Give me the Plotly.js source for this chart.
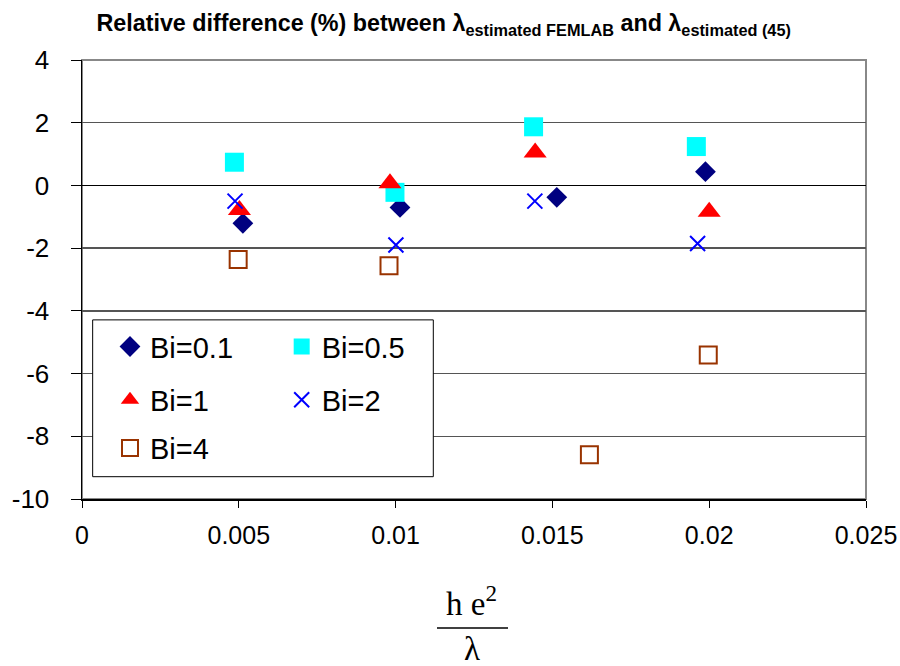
<!DOCTYPE html>
<html><head><meta charset="utf-8">
<script src="https://cdn.plot.ly/plotly-3.0.1.min.js"></script>
<style>html,body{margin:0;padding:0;background:#fff;}#chart{width:900px;height:666px;}</style>
</head><body><div id="chart"></div>
<script>
const seriesNames = ['Bi=0.1', 'Bi=0.5', 'Bi=1', 'Bi=2', 'Bi=4'];
const x_bi01 = [0.00513, 0.01014, 0.01514, 0.01988];
const y_bi01 = [-1.21, -0.70, -0.38, 0.44];
const x_bi05 = [0.00486, 0.00998, 0.01440, 0.01959];
const y_bi05 = [0.74, -0.22, 1.87, 1.24];
const x_bi1 = [0.00502, 0.00982, 0.01445, 0.02000];
const y_bi1 = [-0.78, 0.07, 1.05, -0.84];
const x_bi2 = [0.00488, 0.01001, 0.01444, 0.01963];
const y_bi2 = [-0.50, -1.90, -0.50, -1.85];
const x_bi4 = [0.00498, 0.00979, 0.01618, 0.01997];
const y_bi4 = [-2.36, -2.56, -8.59, -5.41];
const xTickVals = [0, 0.005, 0.01, 0.015, 0.02, 0.025];
const xTickLabels = ['0', '0.005', '0.01', '0.015', '0.02', '0.025'];
const yTickVals = [-10, -8, -6, -4, -2, 0, 2, 4];
const yTickLabels = ['-10', '-8', '-6', '-4', '-2', '0', '2', '4'];

const sans = 'Liberation Sans, Arial, sans-serif';
const serif = 'Liberation Serif, Times New Roman, serif';

const traces = [
  {x: x_bi01, y: y_bi01, name: seriesNames[0], type: 'scatter', mode: 'markers', legend: 'legend',
   marker: {symbol: 'diamond', size: 16, color: '#000080'}},
  {x: x_bi05, y: y_bi05, name: seriesNames[1], type: 'scatter', mode: 'markers', legend: 'legend4',
   marker: {symbol: 'square', size: 19, color: '#00FFFF'}},
  {x: x_bi1, y: y_bi1, name: seriesNames[2], type: 'scatter', mode: 'markers', legend: 'legend2',
   marker: {symbol: 'triangle-up', size: 20, color: '#FF0000'}},
  {x: x_bi2, y: y_bi2, name: seriesNames[3], type: 'scatter', mode: 'markers', legend: 'legend5',
   marker: {symbol: 'x-thin-open', size: 15, color: '#0000FF', line: {color: '#0000FF', width: 2}}},
  {x: x_bi4, y: y_bi4, name: seriesNames[4], type: 'scatter', mode: 'markers', legend: 'legend3',
   marker: {symbol: 'square-open', size: 17, color: '#993300', line: {color: '#993300', width: 2}}}
];

const legBase = {bgcolor: 'rgba(0,0,0,0)', borderwidth: 0, xanchor: 'left', yanchor: 'middle',
  font: {family: sans, size: 29, color: '#000'}};

const layout = {
  width: 900, height: 666,
  paper_bgcolor: '#fff', plot_bgcolor: '#fff',
  margin: {l: 82, r: 34, t: 60, b: 167, autoexpand: false},
  showlegend: true,
  title: {
    text: '<b>Relative difference (%) between λ<sub>estimated FEMLAB</sub> and λ<sub>estimated (45)</sub></b>',
    font: {family: sans, size: 23.3, color: '#000'},
    x: 0.493, xref: 'container', xanchor: 'center',
    y: 0.966, yref: 'container', yanchor: 'middle'
  },
  xaxis: {
    range: [0, 0.025], tickvals: xTickVals, ticktext: xTickLabels,
    ticks: 'outside', ticklen: 7, tickcolor: '#000', tickwidth: 1,
    showline: true, linecolor: '#000', linewidth: 1.5,
    showgrid: false, zeroline: false,
    tickfont: {family: sans, size: 25, color: '#000'},
    ticklabelstandoff: 6, fixedrange: true
  },
  yaxis: {
    range: [-10, 4], tickvals: yTickVals, ticktext: yTickLabels,
    ticks: 'outside', ticklen: 10, tickcolor: '#000', tickwidth: 1,
    showline: true, linecolor: '#000', linewidth: 1.5,
    showgrid: true, gridcolor: '#555', gridwidth: 1.5,
    zeroline: true, zerolinecolor: '#000', zerolinewidth: 1.5,
    tickfont: {family: sans, size: 26, color: '#000'},
    ticklabelstandoff: 16, fixedrange: true
  },
  legend:  Object.assign({}, legBase, {x: 0.0357, y: 0.347}),
  legend2: Object.assign({}, legBase, {x: 0.0357, y: 0.2257}),
  legend3: Object.assign({}, legBase, {x: 0.0357, y: 0.1156}),
  legend4: Object.assign({}, legBase, {x: 0.2547, y: 0.347}),
  legend5: Object.assign({}, legBase, {x: 0.2547, y: 0.2257}),
  shapes: [
    {type: 'rect', xref: 'paper', yref: 'paper', x0: 0, x1: 1, y0: 0, y1: 1,
     line: {color: '#888', width: 2}, layer: 'below'},
    {type: 'rect', xref: 'paper', yref: 'paper', x0: 0.0136, x1: 0.4481, y0: 0.0508, y1: 0.408,
     fillcolor: '#fff', line: {color: '#000', width: 1}, layer: 'above'},
    {type: 'line', xref: 'paper', yref: 'paper', x0: 0.4528, x1: 0.5434, y0: -0.294, y1: -0.294,
     line: {color: '#000', width: 1.5}}
  ],
  annotations: [
    {text: 'h e<sup>2</sup>', xref: 'paper', yref: 'paper', x: 0.4974, y: -0.232,
     xanchor: 'center', yanchor: 'middle', showarrow: false,
     font: {family: serif, size: 33, color: '#000'}},
    {text: 'λ', xref: 'paper', yref: 'paper', x: 0.4974, y: -0.342,
     xanchor: 'center', yanchor: 'middle', showarrow: false,
     font: {family: serif, size: 33, color: '#000'}}
  ]
};

Plotly.newPlot('chart', traces, layout, {displayModeBar: false, staticPlot: true});
</script>
</body></html>
